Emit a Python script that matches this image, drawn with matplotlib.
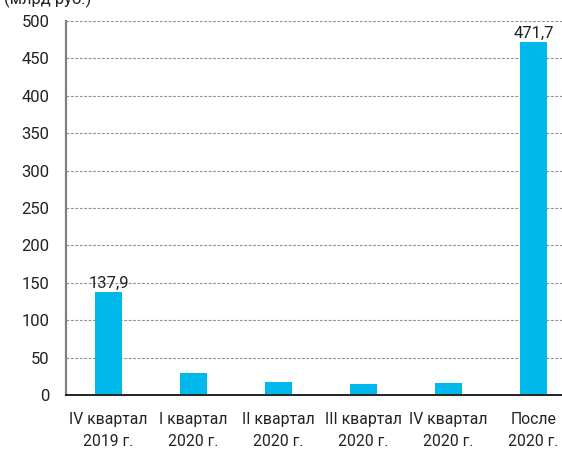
import matplotlib
matplotlib.use("Agg")
import matplotlib.pyplot as plt
import numpy as np

# data
categories = ["IV квартал\n2019 г.", "I квартал\n2020 г.", "II квартал\n2020 г.",
              "III квартал\n2020 г.", "IV квартал\n2020 г.", "После\n2020 г."]
values = [137.9, 29.8, 17.4, 14.3, 16.4, 471.7]
labeled = {0: "137,9", 5: "471,7"}
yticks = [0, 50, 100, 150, 200, 250, 300, 350, 400, 450, 500]

plt.rcParams["font.family"] = ["Roboto", "DejaVu Sans"]

W, H = 562, 451
fig = plt.figure(figsize=(W / 100, H / 100), dpi=100)
ax = fig.add_axes([66 / W, 56 / H, (W - 66) / W, (395 - 21) / H])

x = np.arange(len(values))
ax.bar(x, values, width=0.32, color="#00B9EB", zorder=3)

for i, txt in labeled.items():
    ax.text(x[i], values[i] + 1.5, txt, ha="center", va="bottom",
            fontsize=12, color="#222222", zorder=4)

ax.set_xlim(-0.5, 5.5 - 14 / 85)
ax.set_ylim(0, 500)
ax.set_yticks(yticks)
ax.set_xticks(x)
ax.set_xticklabels(categories, fontsize=11.3, color="#222222", linespacing=1.6)
ax.tick_params(axis="y", length=0, pad=12, labelsize=12, labelcolor="#222222")
ax.tick_params(axis="x", length=0, pad=12)

ax.yaxis.grid(True, linestyle=(0, (2.5, 1.5)), color="#909090", linewidth=0.8, zorder=0)
ax.set_axisbelow(True)

for s in ["top", "right"]:
    ax.spines[s].set_visible(False)
ax.spines["left"].set_color("#808080")
ax.spines["left"].set_linewidth(1.6)
ax.spines["bottom"].set_color("#222222")
ax.spines["bottom"].set_linewidth(1.4)
ax.spines["bottom"].set_zorder(5)

# unit caption, partly cut off at the top edge as in the source
fig.text(4 / W, 1 - 4 / H, "(млрд руб.)", fontsize=12, color="#222222",
         ha="left", va="baseline")

fig.savefig("out.png", dpi=100)
